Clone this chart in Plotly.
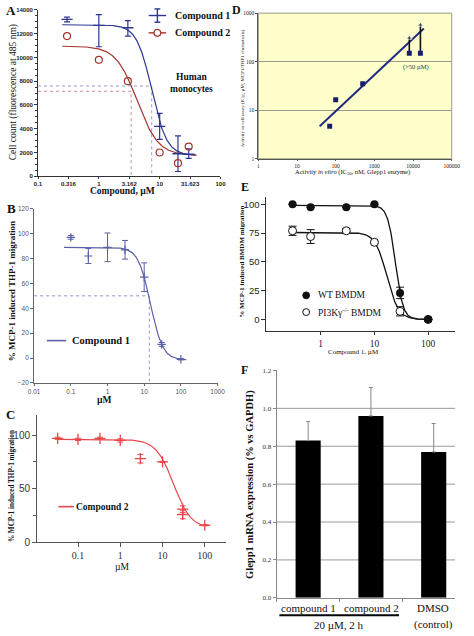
import numpy as np
import plotly.graph_objects as go

W, H = 474, 636
SERIF = "Liberation Serif"
SANS = "Liberation Sans"


def X(p):
    return p / W


def Y(p):
    return 1 - p / H


# ---------------- Panel A data ----------------
a_conc = [0.3, 1, 3, 10, 20, 30]
a_cells1 = [13200, 12700, 12500, 4200, 1900, 1850]
a_err1_hi = [200, 900, 600, 1100, 1500, 450]
a_err1_lo = [200, 1800, 700, 1100, 1500, 350]
a_cells2 = [11800, 9800, 8000, 2000, 1100, 2500]
a_fit1 = [12750, 1750, 0.87, 3.5]      # top, bottom, log IC50, Hill slope
a_fit2 = [10950, 1750, 0.63, 2.5]
a_fit_span = [0.25, 40]
a_ic1 = [7.4, 7600]
a_ic2 = [3.4, 7150]
a_xticks = [0.1, 0.316, 1, 3.162, 10, 31.623, 100]
a_xticklabels = ["0.1", "0.316", "1", "3.162", "10", "31.623", "100"]
a_yticks = [0, 2000, 4000, 6000, 8000, 10000, 12000, 14000]
a_yticklabels = ["0", "2000", "4000", "6000", "8000", "10000", "12000", "14000"]

# ---------------- Panel B data ----------------
b_conc = [0.1, 0.3, 1, 3, 10, 30, 100]
b_migr = [97, 82, 89, 87, 65, 11, -1]
b_err = [1.5, 6, 11.5, 7.5, 11.5, 1.5, 0.5]
b_fit = [89, -1.5, 1.17, 2.6]
b_fit_span = [0.065, 140]
b_ic = [13.8, 50]
b_xticks = [0.01, 0.1, 1, 10, 100, 1000]
b_xticklabels = ["0.01", "0.1", "1", "10", "100", "1000"]
b_yticks = [-20, 0, 20, 40, 60, 80, 100, 120]

# ---------------- Panel C data ----------------
c_conc = [0.033, 0.1, 0.33, 1, 3, 10, 30, 30, 100]
c_migr = [97, 96, 97, 95, 78, 75, 31, 26, 16]
c_err = [1, 1, 1, 1.5, 4, 0.5, 3, 4, 0.5]
c_fit = [96, 13, 1.26, 2.1]
c_fit_span = [0.033, 100]
c_xticks = [0.1, 1, 10, 100]
c_xticklabels = ["0.1", "1", "10", "100"]
c_yticks = [0, 50, 100]

# ---------------- Panel D data ----------------
d_invitro = [70, 100, 500, 8000, 15500]
d_cell = [4.7, 16.5, 35, 150, 150]
d_arrow_x = [8000, 15500]
d_arrow_from = [150, 150]
d_arrow_to = [310, 575]
d_trend_x = [38.6, 19000]
d_trend_y = [4.7, 483]
d_xticks = [1, 10, 100, 1000, 10000, 100000]
d_xticklabels = ["1", "10", "100", "1000", "10000", "100000"]
d_yticks = [1, 10, 100, 1000]
d_yticklabels = ["1", "10", "100", "1000"]

# ---------------- Panel E data ----------------
e_conc = [0.3, 0.65, 3, 10, 30, 100]
e_wt = [100, 97.5, 97.5, 100, 23, 0]
e_wt_err = [0, 0, 0, 0, 5, 0]
e_ko = [77, 72, 77, 67, 7, 0]
e_ko_err = [4, 6, 2, 1, 4, 0]
e_fit_wt = [99, 0, 1.39, 6]
e_fit_ko = [75.5, 0, 1.23, 4]
e_fit_span = [0.3, 100]
e_xticks = [1, 10, 100]
e_yticks = [0, 25, 50, 75, 100]

# ---------------- Panel F data ----------------
f_cats = ["compound 1", "compound 2", "DMSO"]
f_pos = [0, 1, 2]
f_expr = [0.83, 0.96, 0.77]
f_err = [0.10, 0.15, 0.15]
f_yticks = [0.0, 0.2, 0.4, 0.6, 0.8, 1.0, 1.2]
f_grid = [0.2, 0.4, 0.6, 0.8, 1.0]


def hill(x, p):
    top, bottom, logc, h = p
    x = np.asarray(x, dtype=float)
    return bottom + (top - bottom) / (1 + 10 ** ((np.log10(x) - logc) * h))


def span(lo, hi, n=240):
    return np.logspace(np.log10(lo), np.log10(hi), n)


NAVY = "#2e3592"
DRED = "#a2352c"
BSLATE = "#5b60a8"
CRED = "#e8484a"

fig = go.Figure()

# ---------- A ----------
xa = span(*a_fit_span)
fig.add_trace(go.Scatter(x=[a_xticks[0], a_ic1[0], a_ic1[0]], y=[a_ic1[1], a_ic1[1], 0],
                         mode="lines", line=dict(color="#9a9ad0", width=1, dash="dot"),
                         xaxis="x", yaxis="y"))
fig.add_trace(go.Scatter(x=[a_xticks[0], a_ic2[0], a_ic2[0]], y=[a_ic2[1], a_ic2[1], 0],
                         mode="lines", line=dict(color="#d09090", width=1, dash="dot"),
                         xaxis="x", yaxis="y"))
fig.add_trace(go.Scatter(x=xa, y=hill(xa, a_fit1), mode="lines",
                         line=dict(color=NAVY, width=1.2), xaxis="x", yaxis="y"))
fig.add_trace(go.Scatter(x=xa, y=hill(xa, a_fit2), mode="lines",
                         line=dict(color=DRED, width=1.2), xaxis="x", yaxis="y"))
fig.add_trace(go.Scatter(x=a_conc, y=a_cells1, mode="markers",
                         marker=dict(symbol="line-ew", size=8, line=dict(color=NAVY, width=1.4)),
                         error_y=dict(type="data", symmetric=False, array=a_err1_hi,
                                      arrayminus=a_err1_lo, color=NAVY, thickness=1.2, width=3),
                         xaxis="x", yaxis="y"))
fig.add_trace(go.Scatter(x=a_conc, y=a_cells2, mode="markers",
                         marker=dict(symbol="circle-open", size=7, color=DRED, line=dict(width=1.2)),
                         xaxis="x", yaxis="y"))

# ---------- B ----------
xb = span(*b_fit_span)
fig.add_trace(go.Scatter(x=[b_xticks[0], b_ic[0], b_ic[0]], y=[b_ic[1], b_ic[1], b_yticks[0]],
                         mode="lines", line=dict(color="#8f93c8", width=1, dash="dot"),
                         xaxis="x2", yaxis="y2"))
fig.add_trace(go.Scatter(x=xb, y=hill(xb, b_fit), mode="lines",
                         line=dict(color=BSLATE, width=1.2), xaxis="x2", yaxis="y2"))
fig.add_trace(go.Scatter(x=b_conc, y=b_migr, mode="markers",
                         marker=dict(symbol="cross-thin", size=6, line=dict(color=BSLATE, width=1.2)),
                         error_y=dict(type="data", array=b_err, color=BSLATE, thickness=1, width=3),
                         xaxis="x2", yaxis="y2"))

# ---------- C ----------
xc = span(*c_fit_span)
fig.add_trace(go.Scatter(x=xc, y=hill(xc, c_fit), mode="lines",
                         line=dict(color=CRED, width=1.2), xaxis="x3", yaxis="y3"))
fig.add_trace(go.Scatter(x=c_conc, y=c_migr, mode="markers",
                         marker=dict(symbol="cross-thin", size=8, line=dict(color=CRED, width=1.3)),
                         error_y=dict(type="data", array=c_err, color=CRED, thickness=1, width=3),
                         xaxis="x3", yaxis="y3"))

# ---------- D ----------
fig.add_trace(go.Scatter(x=d_trend_x, y=d_trend_y, mode="lines",
                         line=dict(color="#1f2a80", width=2), xaxis="x4", yaxis="y4"))
for xv, y0, y1 in zip(d_arrow_x, d_arrow_from, d_arrow_to):
    fig.add_trace(go.Scatter(x=[xv, xv], y=[y0, y1], mode="lines+markers",
                             line=dict(color="#111111", width=1.6),
                             marker=dict(symbol=["circle", "triangle-up"], size=[0, 5], color="#111111"),
                             xaxis="x4", yaxis="y4"))
fig.add_trace(go.Scatter(x=d_invitro, y=d_cell, mode="markers",
                         marker=dict(symbol="square", size=5, color="#1b1f66"),
                         xaxis="x4", yaxis="y4"))

# ---------- E ----------
xe = span(*e_fit_span)
fig.add_trace(go.Scatter(x=xe, y=hill(xe, e_fit_wt), mode="lines",
                         line=dict(color="#111111", width=1.3), xaxis="x5", yaxis="y5"))
fig.add_trace(go.Scatter(x=xe, y=hill(xe, e_fit_ko), mode="lines",
                         line=dict(color="#111111", width=1.3), xaxis="x5", yaxis="y5"))
fig.add_trace(go.Scatter(x=e_conc, y=e_ko, mode="markers",
                         marker=dict(symbol="circle", size=8, color="white",
                                     line=dict(color="#111111", width=1)),
                         error_y=dict(type="data", array=e_ko_err, color="#111111", thickness=1, width=4),
                         xaxis="x5", yaxis="y5"))
fig.add_trace(go.Scatter(x=e_conc, y=e_wt, mode="markers",
                         marker=dict(symbol="circle", size=8, color="#111111"),
                         error_y=dict(type="data", array=e_wt_err, color="#111111", thickness=1, width=4),
                         xaxis="x5", yaxis="y5"))

# ---------- F ----------
fig.add_trace(go.Bar(x=f_pos, y=f_expr, width=0.4, marker=dict(color="black", line=dict(width=0)),
                     error_y=dict(type="data", symmetric=False, array=f_err,
                                  arrayminus=[0] * len(f_err), color="#888888", thickness=1, width=2),
                     xaxis="x6", yaxis="y6"))


def axis(dom, rng, anchor, **kw):
    d = dict(domain=dom, range=rng, anchor=anchor, showgrid=False, zeroline=False,
             showline=True, linewidth=1, ticks="outside", ticklen=3, tickwidth=1)
    d.update(kw)
    return d


tf_a = dict(family=SANS, size=6, color="#222222", weight="bold")
layout = dict(
    width=W, height=H, margin=dict(l=0, r=0, t=0, b=0),
    paper_bgcolor="white", plot_bgcolor="rgba(0,0,0,0)", showlegend=False,
    xaxis=axis([X(33), X(221)], [-1, 2], "y", type="log", tickvals=a_xticks,
               ticktext=a_xticklabels, tickfont=tf_a, linecolor="#333333", tickcolor="#333333",
               ticklen=2),
    yaxis=axis([Y(175), Y(6)], [0, 14000], "x", tickvals=a_yticks, ticktext=a_yticklabels,
               tickfont=tf_a, linecolor="#333333", tickcolor="#333333",
               minor=dict(dtick=500, ticks="outside", ticklen=2, tickcolor="#333333")),
    xaxis2=axis([X(29), X(218)], [-2, 3], "y2", type="log", tickvals=b_xticks,
                ticktext=b_xticklabels, tickfont=dict(family=SANS, size=6.5, color="#555555"),
                linecolor="#666666", tickcolor="#666666", ticklen=2),
    yaxis2=axis([Y(385), Y(208)], [-20, 120], "x2", tickvals=b_yticks,
                tickfont=dict(family=SANS, size=6.5, color="#555555"),
                linecolor="#666666", tickcolor="#666666"),
    xaxis3=axis([X(32), X(227)], [-1.97, 2.51], "y3", type="log", tickvals=c_xticks,
                ticktext=c_xticklabels, tickfont=dict(family=SERIF, size=10, color="#333333"),
                linecolor="#555555", tickcolor="#555555", ticklen=4),
    yaxis3=axis([Y(547), Y(418)], [0, 118.3], "x3", tickvals=c_yticks,
                tickfont=dict(family=SANS, size=10, color="#333333"),
                linecolor="#555555", tickcolor="#555555", ticklen=4,
                minor=dict(tickvals=[25, 75], ticks="outside", ticklen=3, tickcolor="#555555")),
    xaxis4=axis([X(260), X(459.3)], [0, 5], "y4", type="log", tickvals=d_xticks,
                ticktext=d_xticklabels, tickfont=dict(family=SERIF, size=5.5, color="#222222"),
                linecolor="#555555", tickcolor="#555555", ticklen=1.5),
    yaxis4=axis([Y(157.3), Y(9.3)], [0, 3], "x4", type="log", tickvals=d_yticks,
                ticktext=d_yticklabels, tickfont=dict(family=SERIF, size=5.5, color="#222222"),
                linecolor="#555555", tickcolor="#555555", ticklen=2,
                showgrid=True, gridcolor="#9a9a8a", gridwidth=1),
    xaxis5=axis([X(268.3), X(462.7)], [-1.01, 2.5], "y5", type="log", tickvals=e_xticks,
                ticktext=["1", "10", "100"], tickfont=dict(family=SERIF, size=9.5, color="#222222"),
                linecolor="#333333", tickcolor="#333333", ticklen=3),
    yaxis5=axis([Y(332.7), Y(196.5)], [-10.5, 106], "x5", tickvals=e_yticks,
                tickfont=dict(family=SANS, size=9.5, color="#222222"),
                linecolor="#333333", tickcolor="#333333", ticklen=4),
    xaxis6=axis([X(279), X(462.7)], [-0.5, 2.34], "y6", tickvals=[-0.5, 0.5, 1.5],
                showticklabels=False, linecolor="#888888", tickcolor="#888888", ticklen=3),
    yaxis6=axis([Y(603.3), Y(372.3)], [0, 1.2], "x6", tickvals=f_yticks,
                ticktext=["%.1f" % v for v in f_yticks],
                tickfont=dict(family=SERIF, size=7, color="#333333"),
                linecolor="#888888", tickcolor="#888888", ticklen=3),
)
fig.update_layout(**layout)

shapes = []
# Panel D yellow background and border
shapes.append(dict(type="rect", xref="paper", yref="paper", x0=X(260), x1=X(459.3),
                   y0=Y(157.3), y1=Y(9.3), fillcolor="#ffffcc",
                   line=dict(color="#9a9a8a", width=1), layer="below"))
# Panel F grid
for g in f_grid:
    shapes.append(dict(type="line", xref="x6 domain", yref="y6", x0=0, x1=1, y0=g, y1=g,
                       line=dict(color="#999999", width=1), layer="below"))
# F underline
shapes.append(dict(type="line", xref="paper", yref="paper", x0=X(281.7), x1=X(405),
                   y0=Y(621), y1=Y(621), line=dict(color="black", width=2)))
# Legend A
shapes += [
    dict(type="line", xref="paper", yref="paper", x0=X(147), x1=X(165), y0=Y(11.7), y1=Y(11.7),
         line=dict(color=NAVY, width=1.4)),
    dict(type="line", xref="paper", yref="paper", x0=X(156), x1=X(156), y0=Y(5), y1=Y(18.5),
         line=dict(color=NAVY, width=1.4)),
    dict(type="line", xref="paper", yref="paper", x0=X(153), x1=X(159), y0=Y(5), y1=Y(5),
         line=dict(color=NAVY, width=1.4)),
    dict(type="line", xref="paper", yref="paper", x0=X(153), x1=X(159), y0=Y(18.5), y1=Y(18.5),
         line=dict(color=NAVY, width=1.4)),
    dict(type="line", xref="paper", yref="paper", x0=X(147), x1=X(165), y0=Y(29.3), y1=Y(29.3),
         line=dict(color=DRED, width=1.4)),
    dict(type="circle", xref="paper", yref="paper", x0=X(152.5), x1=X(159.5), y0=Y(32.8), y1=Y(25.8),
         fillcolor="white", line=dict(color=DRED, width=1.3)),
    # Legend B
    dict(type="line", xref="paper", yref="paper", x0=X(42), x1=X(62), y0=Y(342), y1=Y(342),
         line=dict(color=BSLATE, width=1.6)),
    # Legend C
    dict(type="line", xref="paper", yref="paper", x0=X(54), x1=X(70), y0=Y(510.7), y1=Y(510.7),
         line=dict(color=CRED, width=1.6)),
    # Legend E
    dict(type="circle", xref="paper", yref="paper", x0=X(305.8), x1=X(312.8), y0=Y(299.5), y1=Y(292.5),
         fillcolor="#111111", line=dict(color="#111111", width=1)),
    dict(type="circle", xref="paper", yref="paper", x0=X(305.8), x1=X(312.8), y0=Y(316.5), y1=Y(309.5),
         fillcolor="white", line=dict(color="#111111", width=1)),
]
fig.update_layout(shapes=shapes)


def note(text, x, y, size, family=SERIF, bold=False, angle=0, xanchor="center",
         yanchor="middle", color="#111111"):
    return dict(text=("<b>%s</b>" % text) if bold else text, x=X(x), y=Y(y), xref="paper",
                yref="paper", showarrow=False, textangle=angle, xanchor=xanchor, yanchor=yanchor,
                font=dict(family=family, size=size, color=color))


ann = [
    note("A", 5, 7, 13, bold=True),
    note("B", 6, 208, 13, bold=True),
    note("C", 5, 417, 13, bold=True),
    note("D", 238, 6, 12, bold=True),
    note("E", 246, 186, 12, bold=True),
    note("F", 246, 372, 12, bold=True),
    # A
    note("Cell count (fluorescence at 485 nm)", 8, 90, 9.5, angle=-90),
    note("Compound, \u00b5M", 120, 190, 9.5, bold=True),
    note("Compound 1", 172, 11.7, 10, bold=True, xanchor="left"),
    note("Compound 2", 172, 29.3, 10, bold=True, xanchor="left"),
    note("Human<br>monocytes", 191, 80.5, 9.5, bold=True),
    # B
    note("% MCP-1 induced THP-1 migration", 7, 292, 9, bold=True, angle=-90),
    note("\u00b5M", 101, 402, 9.5, bold=True),
    note("Compound 1", 66, 342, 10.5, bold=True, xanchor="left"),
    # C
    note("% MCP-1 induced THP-1 migration", 6, 490, 7.2, bold=True, angle=-90),
    note("\u00b5M", 120, 572, 9.5),
    note("Compound 2", 70, 510.7, 9.5, bold=True, xanchor="left"),
    # D
    note("Activity in cell assay (IC<sub>50</sub>, \u00b5M, MCP1/THP1 chemotaxis)", 244, 86, 5,
         angle=-90),
    note("Activity <i>in vitro</i> (IC<sub>50</sub>, nM, Glepp1 enzyme)", 357, 171, 6.5),
    note("(>50 \u00b5M)", 422, 63.5, 6.5, color="#333333"),
    # E
    note("% MCP-1 induced BMDM migration", 243, 262, 7, bold=True, angle=-90),
    note("Compound 1, \u00b5M", 358, 354, 7),
    note("WT BMDM", 319, 296, 9.5, xanchor="left"),
    note("PI3K\u03b3<sup>-/-</sup> BMDM", 319, 313, 9.5, xanchor="left"),
    # F
    note("Glepp1 mRNA expression (% vs GAPDH)", 252, 488, 10.5, bold=True, angle=-90),
    note("compound 1", 311.3, 614, 11),
    note("compound 2", 376.3, 614, 11),
    note("DMSO", 440.5, 614, 11),
    note("(control)", 440.5, 630, 11),
    note("20 \u00b5M, 2 h", 343, 631, 11),
]
fig.update_layout(annotations=ann)

fig.write_html("out.html", config={"displayModeBar": False},
               post_script="document.body.style.margin='0';document.body.style.overflow='hidden';")
